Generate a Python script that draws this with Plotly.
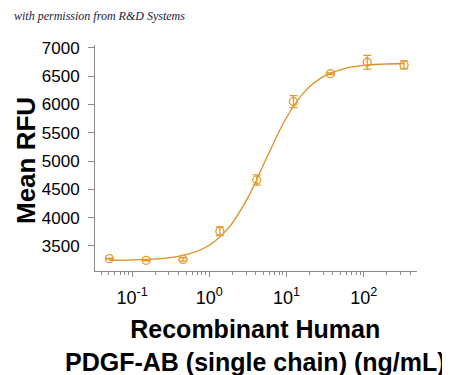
import plotly.graph_objects as go

# Data
conc = [0.0508, 0.152, 0.457, 1.37, 4.12, 12.3, 37.0, 111.0, 333.0]
rfu = [3276, 3247, 3262, 3760, 4666, 6050, 6544, 6745, 6698]
err = [10, 10, 30, 75, 90, 105, 15, 120, 70]

curve_x = [0.0508, 0.1, 0.316, 0.562, 1.0, 1.778, 3.162, 5.623, 10.0, 17.78, 31.62, 56.23, 100.0, 177.8, 333.0]
curve_y = [3248, 3254, 3296, 3363, 3513, 3819, 4355, 5077, 5770, 6249, 6509, 6633, 6689, 6712, 6723]

major_ticks = [0.1, 1, 10, 100]
major_text = ["10<sup>-1</sup>", "10<sup>0</sup>", "10<sup>1</sup>", "10<sup>2</sup>"]
minor_ticks = [m * d for d in [0.01, 0.1, 1, 10, 100] for m in range(2, 10)]
y_ticks = [3500, 4000, 4500, 5000, 5500, 6000, 6500, 7000]

line_color = "#DA9023"
marker_color = "#E59A2C"
axis_color = "#8a8a8a"

# figure is 442x367; the page adds an 8px body margin, giving 450x375 on screen
L, T, R, B = 87, 37, 33, 104
W, H = 442, 367
PW, PH = W - L - R, H - T - B


def px(x):
    return (x - 8 - L) / PW


def py(y):
    return (H - B - (y - 8)) / PH


fig = go.Figure()
fig.add_trace(go.Scatter(
    x=curve_x, y=curve_y, mode="lines", line=dict(color=line_color, width=1.3, shape="spline"),
    hoverinfo="skip", showlegend=False))
fig.add_trace(go.Scatter(
    x=conc, y=rfu, mode="markers",
    marker=dict(symbol="circle-open", size=8, color=marker_color, line=dict(width=1.3)),
    error_y=dict(type="data", array=err, visible=True, color=marker_color, thickness=1.3, width=4),
    showlegend=False))

fig.update_layout(
    width=W, height=H,
    margin=dict(l=L, r=R, t=T, b=B),
    paper_bgcolor="white", plot_bgcolor="white",
    font=dict(family="Arial, Liberation Sans, sans-serif", color="black"),
    xaxis=dict(
        type="log", range=[-1.48, 2.69], automargin=False,
        tickvals=major_ticks, ticktext=major_text,
        ticks="outside", ticklen=5, tickcolor=axis_color, ticklabelstandoff=5,
        minor=dict(tickvals=minor_ticks, ticks="outside", ticklen=3, tickcolor=axis_color),
        showline=True, linecolor=axis_color, linewidth=1, showgrid=False, zeroline=False,
        tickfont=dict(size=18),
    ),
    yaxis=dict(
        range=[3058, 7050], tickvals=y_ticks, automargin=False,
        ticks="outside", ticklen=6, tickcolor=axis_color, ticklabelstandoff=5,
        showline=True, linecolor=axis_color, linewidth=1, showgrid=False, zeroline=False,
        tickfont=dict(size=17),
    ),
    annotations=[
        dict(text="<i>with permission from R&D Systems</i>", xref="paper", yref="paper",
             x=px(12), y=py(16), xanchor="left", yanchor="middle", showarrow=False,
             font=dict(family="Liberation Serif, serif", size=12, color="#1a1a40")),
        dict(text="<b>Mean RFU</b>", xref="paper", yref="paper", textangle=-90,
             x=px(26), y=py(161), xanchor="center", yanchor="middle", showarrow=False,
             font=dict(size=26)),
        dict(text="<b>Recombinant Human<br>PDGF-AB (single chain) (ng/mL)</b>",
             xref="paper", yref="paper", x=px(255), y=py(345), xanchor="center",
             yanchor="middle", showarrow=False, font=dict(size=25)),
    ],
)

fig.write_html("out.html")
